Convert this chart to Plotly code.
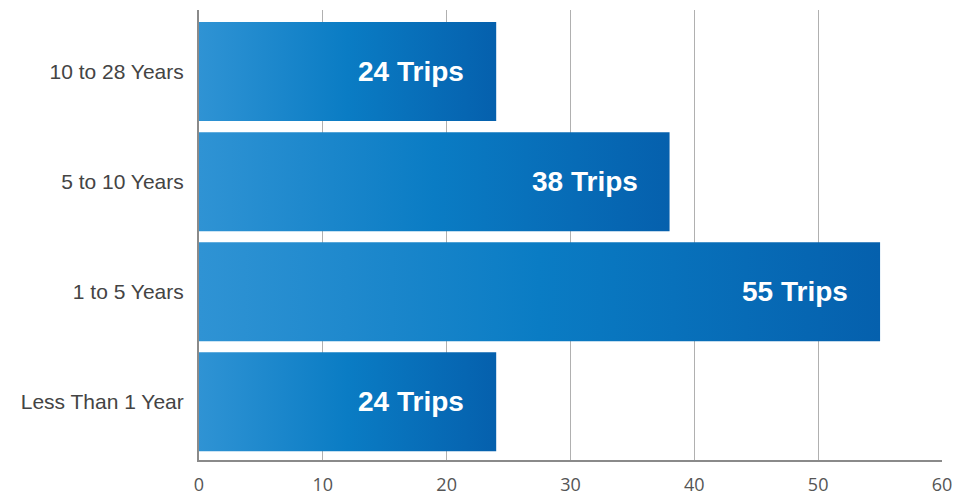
import plotly.graph_objects as go

categories = ["10 to 28 Years", "5 to 10 Years", "1 to 5 Years", "Less Than 1 Year"]
trips = [24, 38, 55, 24]
labels = [f"{v} Trips" for v in trips]
x_ticks = [0, 10, 20, 30, 40, 50, 60]

BAR_W = 0.9
grad = [[0, "#2f93d4"], [0.5, "#0a7cc4"], [1, "#0560ad"]]

fig = go.Figure()
for i, (cat, v) in enumerate(zip(categories, trips)):
    y0, y1 = i - BAR_W / 2, i + BAR_W / 2
    fig.add_trace(go.Scatter(
        x=[0, v, v, 0, 0], y=[y0, y0, y1, y1, y0],
        mode="lines", line=dict(width=0), fill="toself",
        fillgradient=dict(type="horizontal", colorscale=grad),
        hoverinfo="skip", showlegend=False,
    ))

for i, (v, t) in enumerate(zip(trips, labels)):
    fig.add_annotation(
        x=v, y=i, text=f"<b>{t}</b>", showarrow=False,
        xanchor="right", yanchor="middle", xshift=-30,
        font=dict(family="Liberation Sans, Arial", size=28, color="white"),
    )

fig.update_layout(
    width=961, height=487,
    margin=dict(l=191, r=27, t=2, b=35),
    plot_bgcolor="white", paper_bgcolor="white",
    xaxis=dict(
        range=[0, 60], tickvals=x_ticks, showgrid=True, gridcolor="#b0b0b0", gridwidth=1,
        zeroline=False, showline=True, linecolor="#8a8a8a", linewidth=2,
        tickfont=dict(family="Open Sans, Noto Sans", size=18, color="#555555"),
        ticks="", ticklabelstandoff=7, fixedrange=True, automargin=False,
    ),
    yaxis=dict(
        range=[3.53, -0.56], tickvals=list(range(len(categories))), ticktext=categories,
        showgrid=False, zeroline=False, showline=True, linecolor="#8a8a8a", linewidth=2,
        tickfont=dict(family="Liberation Sans, Arial", size=21, color="#444444"),
        ticks="", ticklabelstandoff=9, fixedrange=True, automargin=False,
    ),
)

fig.write_html("out.html")
